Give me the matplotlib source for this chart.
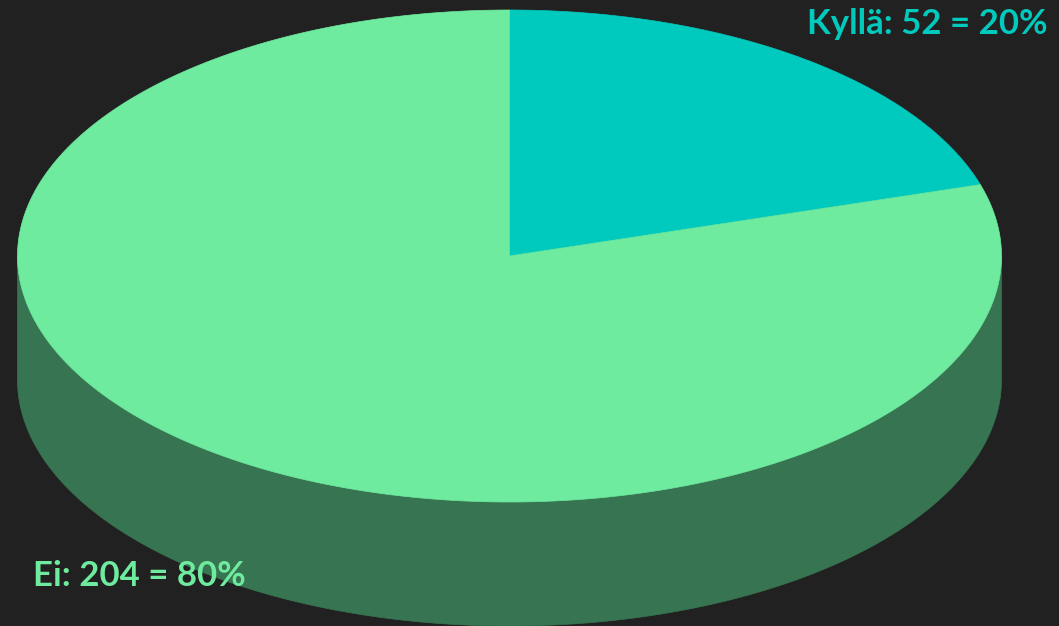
import numpy as np
import matplotlib
matplotlib.use("Agg")
import matplotlib.pyplot as plt
from matplotlib.patches import Polygon

# Datos
categorias = ['Kyllä', 'Ei']
valores = [52, 204]
colores = ['#00c9be', '#6eeb9e']
colores_lado = ['#00756f', '#377451']

# Geometria del pie (pixeles)
cx, cy = 509.5, 256
rx, ry = 492, 246
prof = 124

fig = plt.figure(figsize=(10.59, 6.26), dpi=100)
fig.patch.set_facecolor('#212121')
ax = fig.add_axes([0, 0, 1, 1])
ax.set_facecolor('#212121')
ax.set_xlim(0, 1059)
ax.set_ylim(626, 0)
ax.axis('off')

total = sum(valores)
inicio = 90.0
angulos = []
for v in valores:
    fin = inicio - 360.0 * v / total
    angulos.append((inicio, fin))
    inicio = fin

def punto(t, dy=0):
    r = np.radians(t)
    return cx + rx * np.cos(r), cy - ry * np.sin(r) + dy

# Lados (solo la parte de adelante, 180..360)
for (a, b), col in zip(angulos, colores_lado):
    lo, hi = min(a, b), max(a, b)
    for k in range(-2, 3):
        s = max(lo, 180 + 360 * k)
        e = min(hi, 360 + 360 * k)
        if e <= s:
            continue
        t = np.linspace(s, e, 200)
        arriba = [punto(x) for x in t]
        abajo = [punto(x, prof) for x in t[::-1]]
        ax.add_patch(Polygon(arriba + abajo, closed=True, facecolor=col,
                             edgecolor=col, linewidth=0.5))

# Tapa
for (a, b), col in zip(angulos, colores):
    t = np.linspace(a, b, 400)
    pts = [(cx, cy)] + [punto(x) for x in t]
    ax.add_patch(Polygon(pts, closed=True, facecolor=col, edgecolor=col,
                         linewidth=0.5))

# Etiquetas
pct = [round(100 * v / total) for v in valores]
ax.text(1048, 24, f'{categorias[0]}: {valores[0]} = {pct[0]}%', color=colores[0],
        fontsize=25, fontweight='bold', family='Lato', ha='right', va='center')
ax.text(33, 576, f'{categorias[1]}: {valores[1]} = {pct[1]}%', color=colores[1],
        fontsize=25, fontweight='bold', family='Lato', ha='left', va='center')

fig.savefig('out.png', dpi=100, facecolor=fig.get_facecolor())
